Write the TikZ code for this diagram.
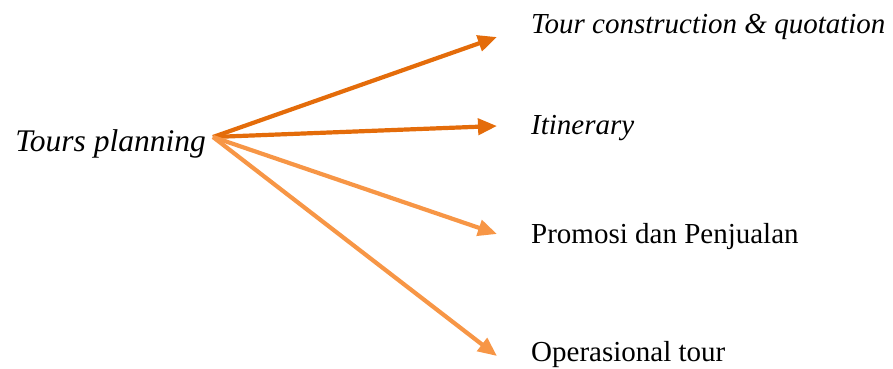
\documentclass[tikz,border=0pt]{standalone}
\usepackage{fontspec}
\setmainfont{Liberation Serif}
\usetikzlibrary{arrows.meta}
\definecolor{darkorange}{RGB}{228,108,10}
\definecolor{lightorange}{RGB}{247,150,70}
\begin{document}
\begin{tikzpicture}[x=1pt,y=-1pt,
  label text/.style={font=\fontsize{29}{34}\selectfont, inner sep=0pt},
  root text/.style={font=\fontsize{31.5}{36}\selectfont, inner sep=0pt},
  branch/.style={line width=4.2pt, -{Triangle[length=19pt,width=16pt]}}]
\useasboundingbox (0,0) rectangle (893,368);
% root label and the point where the branches meet
\node[root text, anchor=base east] (root) at (206,151) {\itshape Tours planning};
\coordinate (src) at (213,137);
% branch targets
\coordinate (t1) at (497,37);
\coordinate (t2) at (497,126);
\coordinate (t3) at (497,234);
\coordinate (t4) at (497,356);
% branch labels
\node[label text, anchor=base west] (l1) at (531,33) {\itshape Tour construction \& quotation};
\node[label text, anchor=base west] (l2) at (531,134) {\itshape Itinerary};
\node[label text, anchor=base west] (l3) at (531,243) {Promosi dan Penjualan};
\node[label text, anchor=base west] (l4) at (531,361) {Operasional tour};
% arrows
\draw[branch, darkorange] (src) -- (t1);
\draw[branch, darkorange] (src) -- (t2);
\draw[branch, lightorange] (src) -- (t3);
\draw[branch, lightorange] (src) -- (t4);
\end{tikzpicture}
\end{document}
